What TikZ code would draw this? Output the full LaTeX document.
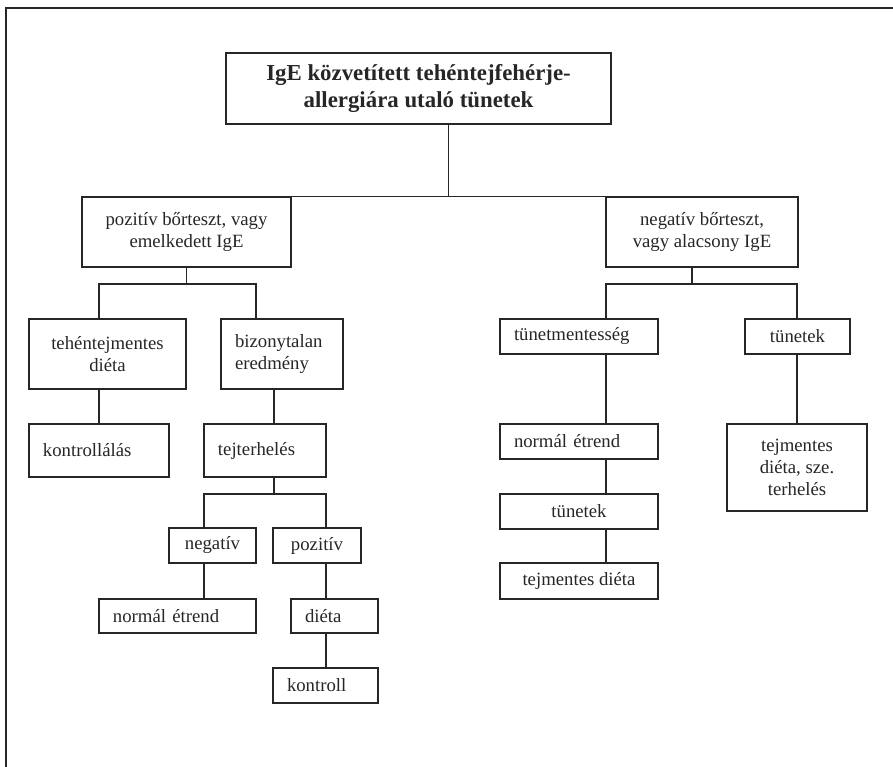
\documentclass[tikz,border=0pt]{standalone}
\usepackage{fontspec}
\setmainfont{Liberation Serif}
\usepackage{xcolor}
\usepackage{tikz}
\usetikzlibrary{calc}

\tikzset{
  box/.style={draw=black!85, line width=0.9pt, text=black!85, rectangle, inner sep=0pt, align=center, font=\fontsize{16}{19}\selectfont},
  lbox/.style={box, align=left, inner xsep=0.42cm, inner ysep=0pt},
  link/.style={draw=black!85, line width=0.9pt},
}

\begin{document}
\begin{tikzpicture}[x=0.03cm, y=-0.03cm]
            \useasboundingbox (0,0) rectangle (893,767);
            %%% FRAME %%%
            \draw[link] (6,767) -- (6,8) -- (893,8);

            %%% BOXES %%%
            \node[box, minimum width=11.55cm, minimum height=2.13cm, font=\fontsize{19.5}{23}\selectfont\bfseries] (top) at (418.5,88.5) {IgE közvetített tehéntejfehérje-\\allergiára utaló tünetek};
            \node[box, minimum width=6.27cm, minimum height=2.1cm] (pos) at (186.5,232) {pozitív bőrteszt, vagy\\emelkedett IgE};
            \node[box, minimum width=5.76cm, minimum height=2.1cm] (neg) at (702,232) {negatív bőrteszt,\\vagy alacsony IgE};
            %% left branch
            \node[box, minimum width=4.71cm, minimum height=2.1cm] (teh) at (107.5,354) {tehéntejmentes\\diéta};
            \node[lbox, text width=2.82cm, minimum height=2.1cm] (biz) at (282,354) {bizonytalan\\eredmény};
            \node[lbox, text width=3.36cm, minimum height=1.59cm] (kontr) at (99,450.5) {kontrollálás};
            \node[lbox, text width=2.82cm, minimum height=1.59cm] (tejt) at (265,450.5) {tejterhelés};
            \node[box, minimum width=2.61cm, minimum height=1.05cm] (negs) at (212.5,545.5) {negatív};
            \node[box, minimum width=2.64cm, minimum height=1.05cm] (poss) at (317,545.5) {pozitív};
            \node[lbox, text width=3.87cm, minimum height=1.02cm] (norm1) at (177.5,616) {normál étrend};
            \node[lbox, text width=1.77cm, minimum height=1.02cm] (dieta) at (334.5,616) {diéta};
            \node[lbox, text width=2.31cm, minimum height=1.05cm] (kontroll) at (325.5,685.5) {kontroll};
            %% right branch
            \node[lbox, text width=3.9cm, minimum height=1.05cm] (tunm) at (579,336.5) {tünetmentesség};
            \node[box, minimum width=3.15cm, minimum height=1.05cm] (tun1) at (797.5,336.5) {tünetek};
            \node[lbox, text width=3.9cm, minimum height=1.05cm] (norm2) at (579,441.5) {normál étrend};
            \node[box, minimum width=4.74cm, minimum height=1.05cm] (tun2) at (579,511.5) {tünetek};
            \node[box, minimum width=4.74cm, minimum height=1.08cm] (tejm) at (579,581) {tejmentes diéta};
            \node[box, minimum width=4.2cm, minimum height=2.61cm] (tejsz) at (797,467.5) {tejmentes\\diéta, sze.\\terhelés};

            %%% JUNCTIONS %%%
            \draw ($(pos.north east)!0.5!(neg.north west)$) coordinate (j0);
            \draw (99,284) coordinate (p1);
            \draw (256,284) coordinate (p2);
            \draw (274,494) coordinate (p3);
            \draw (204,494) coordinate (p4);
            \draw (326,494) coordinate (p5);
            \draw (692,284) coordinate (n0);
            \draw (606,284) coordinate (n1);
            \draw (797,284) coordinate (n2);

            %%% LINKS %%%
            \draw[link] (top.south -| j0) -- (j0);
            \draw[link] (pos.north east) -- (neg.north west);
            %% left branch
            \draw[link] (pos.south) -- (pos.south |- p1);
            \draw[link] (teh.north -| p1) -- (p1) -- (p2) -- (biz.north -| p2);
            \draw[link] (teh.south -| kontr.north) -- (kontr.north);
            \draw[link] (biz.south -| p3) -- (tejt.north -| p3);
            \draw[link] (tejt.south -| p3) -- (p3);
            \draw[link] (negs.north -| p4) -- (p4) -- (p5) -- (poss.north -| p5);
            \draw[link] (negs.south -| p4) -- (norm1.north -| p4);
            \draw[link] (poss.south -| p5) -- (dieta.north -| p5);
            \draw[link] (dieta.south -| p5) -- (kontroll.north -| p5);
            %% right branch
            \draw[link] (neg.south -| n0) -- (n0);
            \draw[link] (tunm.north -| n1) -- (n1) -- (n2) -- (tun1.north -| n2);
            \draw[link] (tunm.south -| n1) -- (norm2.north -| n1);
            \draw[link] (norm2.south -| n1) -- (tun2.north -| n1);
            \draw[link] (tun2.south -| n1) -- (tejm.north -| n1);
            \draw[link] (tun1.south -| n2) -- (tejsz.north -| n2);
\end{tikzpicture}
\end{document}
